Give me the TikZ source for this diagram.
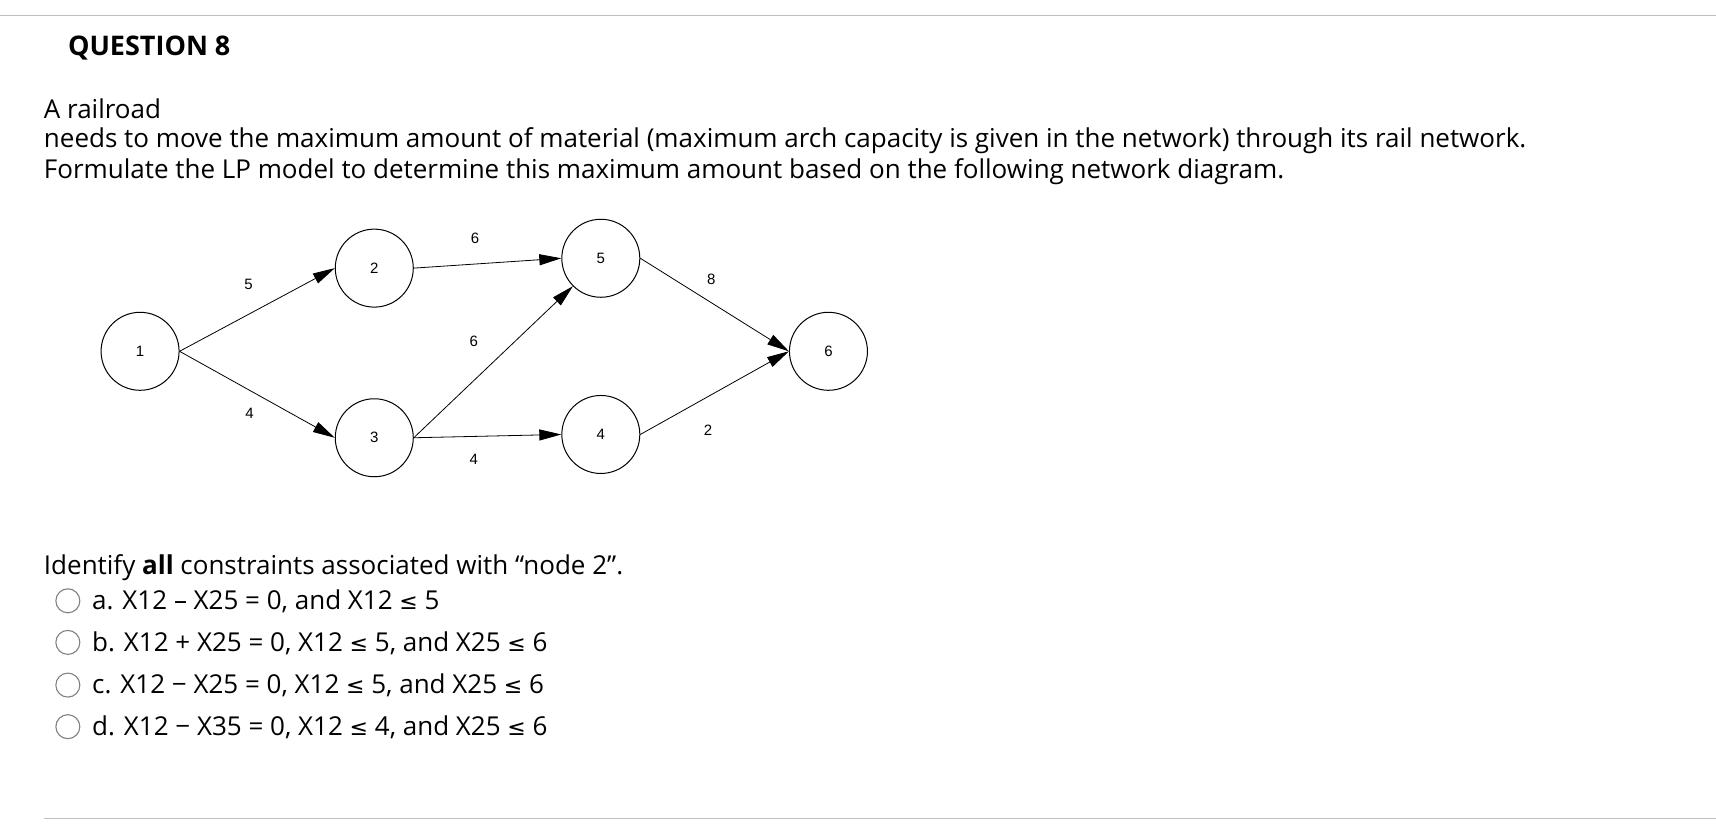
\documentclass[tikz,border=0pt]{standalone}
\usepackage{fontspec}
\setmainfont{Open Sans}
\newfontfamily\netfont{Liberation Sans}
\newfontfamily\symfont{DejaVu Sans}
\usetikzlibrary{arrows.meta}
\begin{document}
\begin{tikzpicture}[x=1.0944pt,y=-1.0944pt,
  nd/.style={draw,circle,minimum size=78pt,inner sep=0pt,font=\netfont\fontsize{15}{15}\selectfont,line width=1pt},
  lab/.style={font=\netfont\fontsize{15}{15}\selectfont},
  arc/.style={line width=0.8pt,-{Triangle[length=22pt,width=11pt]}},
  txt/.style={anchor=base west,inner sep=0pt,font=\fontsize{26}{26}\selectfont},
  le/.style={font=\symfont\fontsize{22}{22}\selectfont},
  radio/.style={draw=gray,circle,minimum size=24pt,inner sep=0pt,line width=1.1pt}]
\useasboundingbox (0,0) rectangle (1568,766);
\draw[gray!50,line width=1.5pt] (0,14) -- (1568,14);
\draw[gray!50,line width=1.5pt] (40,748) -- (1568,748);
\node[txt,font=\bfseries\fontsize{27}{27}\selectfont] (q) at (62,51) {QUESTION 8};
\node[txt] (t1) at (40,108) {A railroad};
\node[txt] (t2) at (40,135) {needs to move the maximum amount of material (maximum arch capacity is given in the network) through its rail network.};
\node[txt] (t3) at (40,163) {Formulate the LP model to determine this maximum amount based on the following network diagram.};
\node[nd] (n1) at (128,321) {1};
\node[nd] (n2) at (342,245) {2};
\node[nd] (n5) at (549,236) {5};
\node[nd] (n6) at (757,321) {6};
\node[nd] (n3) at (342,400) {3};
\node[nd] (n4) at (549,397) {4};
\draw[arc] (n1.east) -- (n2.west);
\draw[arc] (n1.east) -- (n3.west);
\draw[arc] (n2.east) -- (n5.west);
\draw[arc] (n3.east) -- (n5.south west);
\draw[arc] (n3.east) -- (n4.west);
\draw[arc] (n5.east) -- (n6.west);
\draw[arc] (n4.east) -- (n6.west);
\node[lab] (l25) at (434,218) {6};
\node[lab] (l12) at (227,260) {5};
\node[lab] (l56) at (650,255) {8};
\node[lab] (l35) at (433,312) {6};
\node[lab] (l13) at (228,378) {4};
\node[lab] (l46) at (647,393) {2};
\node[lab] (l34) at (433,420) {4};
\node[txt] (id) at (40,525) {Identify \textbf{all} constraints associated with “node 2”.};
\node[radio] (r1) at (62,549) {};
\node[radio] (r2) at (62,587) {};
\node[radio] (r3) at (62,626) {};
\node[radio] (r4) at (62,664) {};
\node[txt] (a) at (84,557) {a. X12 – X25 = 0, and X12 {\symfont\fontsize{22}{22}\selectfont ≤} 5};
\node[txt] (b) at (84,595) {b. X12 + X25 = 0, X12 {\symfont\fontsize{22}{22}\selectfont ≤} 5, and X25 {\symfont\fontsize{22}{22}\selectfont ≤} 6};
\node[txt] (c) at (84,634) {c. X12 − X25 = 0, X12 {\symfont\fontsize{22}{22}\selectfont ≤} 5, and X25 {\symfont\fontsize{22}{22}\selectfont ≤} 6};
\node[txt] (d) at (84,672) {d. X12 − X35 = 0, X12 {\symfont\fontsize{22}{22}\selectfont ≤} 4, and X25 {\symfont\fontsize{22}{22}\selectfont ≤} 6};
\end{tikzpicture}
\end{document}
